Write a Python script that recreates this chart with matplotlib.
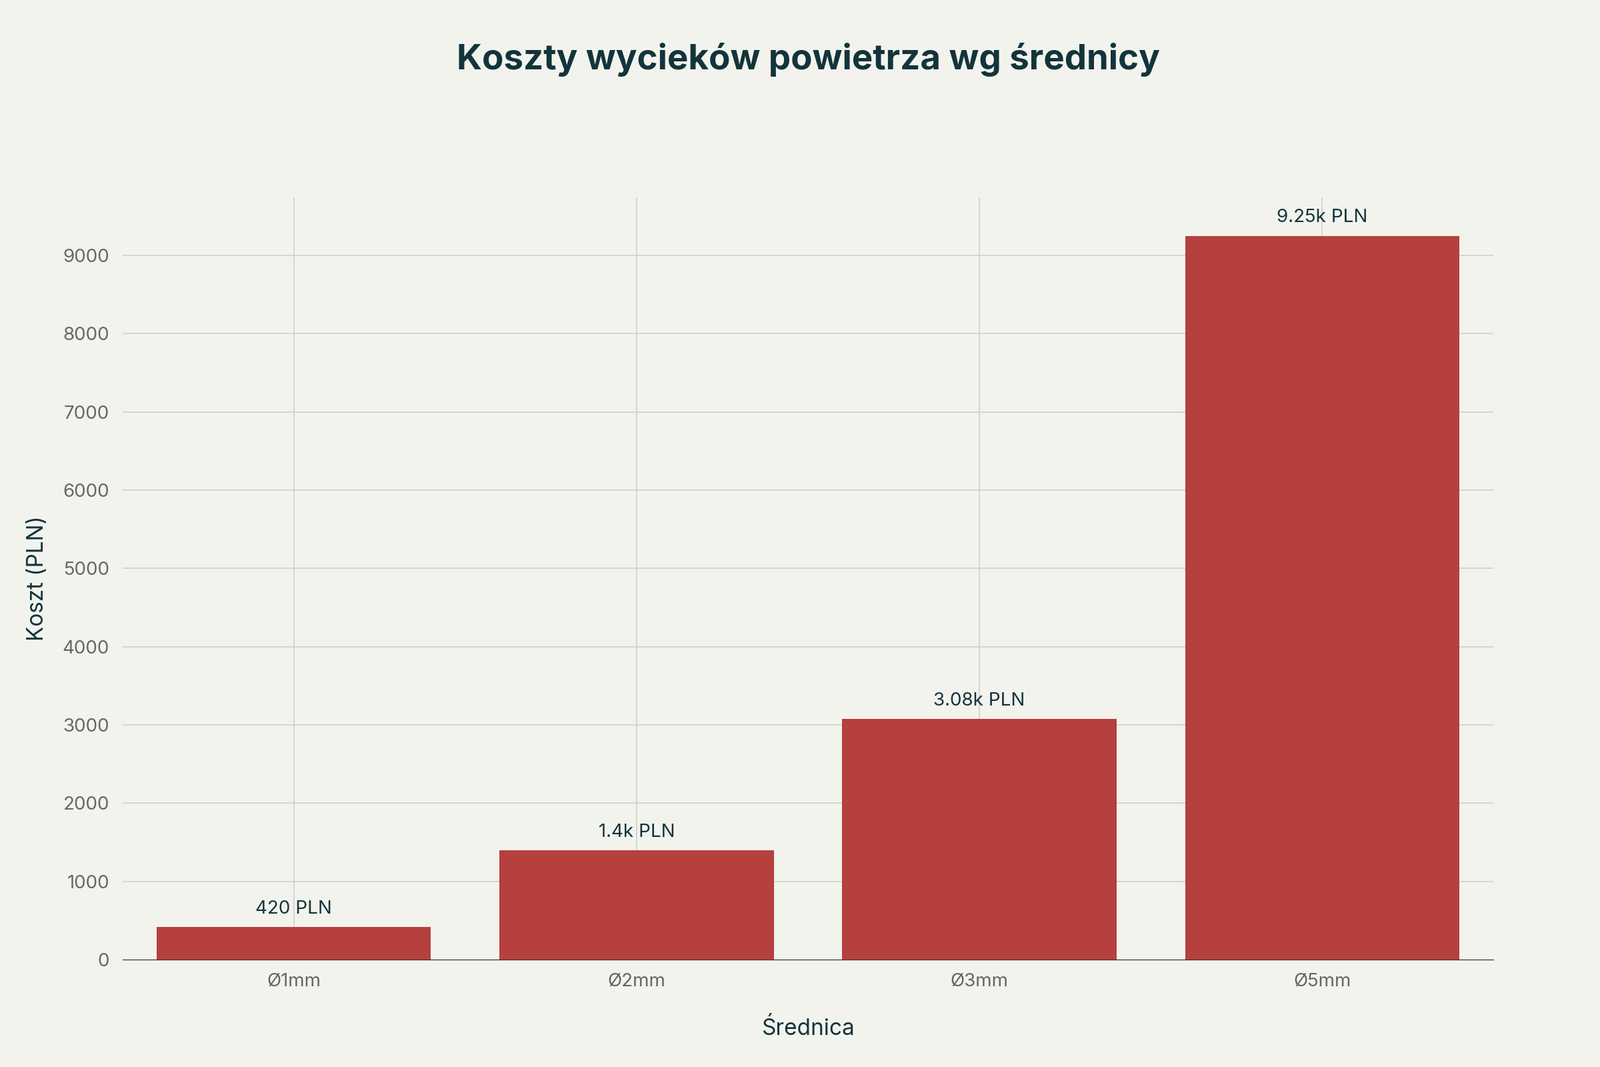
import matplotlib
matplotlib.use("Agg")
import matplotlib.pyplot as plt

categories = ["Ø1mm", "Ø2mm", "Ø3mm", "Ø5mm"]
values = [420, 1400, 3080, 9250]
labels = ["420 PLN", "1.4k PLN", "3.08k PLN", "9.25k PLN"]

plt.rcParams["font.family"] = "Inter"
bg = "#f3f3ee"
dark = "#13343b"
fig = plt.figure(figsize=(24, 16), dpi=100, facecolor=bg)
ax = fig.add_axes([0.0765, 0.1005, 0.857, 0.7145], facecolor=bg)
x = range(len(categories))
ax.bar(x, values, width=0.8, color="#b5403d", zorder=3)
for xi, v, l in zip(x, values, labels):
    ax.text(xi, v + 120, l, ha="center", va="bottom", fontsize=20, color=dark, zorder=4)
ax.set_xticks(list(x))
ax.set_xticklabels(categories)
ax.set_xlim(-0.5, 3.5)
ax.set_ylim(0, 9740)
ax.set_yticks(range(0, 10000, 1000))
ax.grid(True, color="#d0d0cc", linewidth=1.2, zorder=0)
for s in ["top", "right", "left"]:
    ax.spines[s].set_visible(False)
ax.spines["bottom"].set_color("#333333")
ax.tick_params(axis="both", length=0, labelsize=20, labelcolor="#666666", pad=14)
ax.set_xlabel("Średnica", fontsize=24, color=dark, labelpad=30)
ax.set_ylabel("Koszt (PLN)", fontsize=24, color=dark, labelpad=16)
fig.suptitle("Koszty wycieków powietrza wg średnicy", fontsize=38, fontweight="bold",
             color=dark, x=0.505, y=0.96)
fig.savefig("out.png", facecolor=bg)
